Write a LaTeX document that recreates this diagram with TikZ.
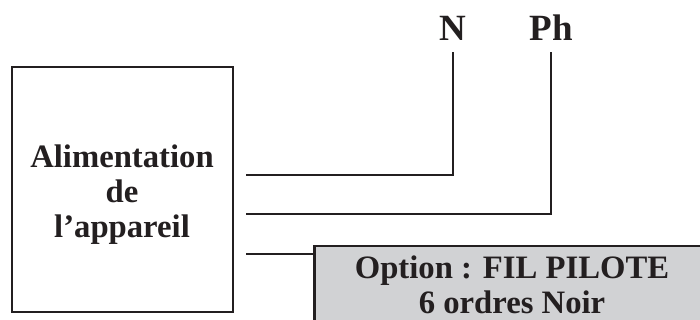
\documentclass[tikz,border=0pt]{standalone}
\usepackage{fontspec}
\setmainfont{Liberation Serif}
\definecolor{ink}{HTML}{231F20}
\definecolor{panel}{HTML}{D1D2D4}
\tikzset{
  x=1pt,y=-1pt,
  wire/.style={draw=ink,line width=2.7pt,line join=miter},
  frame/.style={draw=ink,line width=2.7pt,inner sep=0pt,outer sep=0pt},
  lbl/.style={text=ink,inner sep=0pt,align=center,font=\fontsize{32.7}{35}\selectfont\bfseries},
  biglbl/.style={text=ink,inner sep=0pt,font=\fontsize{37}{40}\selectfont\bfseries},
}
\begin{document}
\begin{tikzpicture}
\useasboundingbox (0,0) rectangle (700,320);
\node[frame,minimum width=221pt,minimum height=245pt] (box) at (122.5,189.5) {};
\node[frame,fill=panel,minimum width=400pt,minimum height=100pt,anchor=north west] (pilot) at (314.5,246) {};
\node[lbl] (boxtext) at (122,194.5) {Alimentation\\de\\l’appareil};
\node[lbl] (pilottext) at (512,284.5) {Option : FIL PILOTE\\6 ordres Noir};
\node[biglbl] (n) at (453,28) {N};
\node[biglbl] (ph) at (551,28) {Ph};
\coordinate (w1) at (246,175);
\coordinate (w2) at (246,214);
\coordinate (w3) at (246,254);
\coordinate (n0) at (453,52);
\coordinate (ph0) at (551,52);
\draw[wire] (w1) -| (n0);
\draw[wire] (w2) -| (ph0);
\draw[wire] (w3) -- (w3 -| pilot.west);
\end{tikzpicture}
\end{document}
